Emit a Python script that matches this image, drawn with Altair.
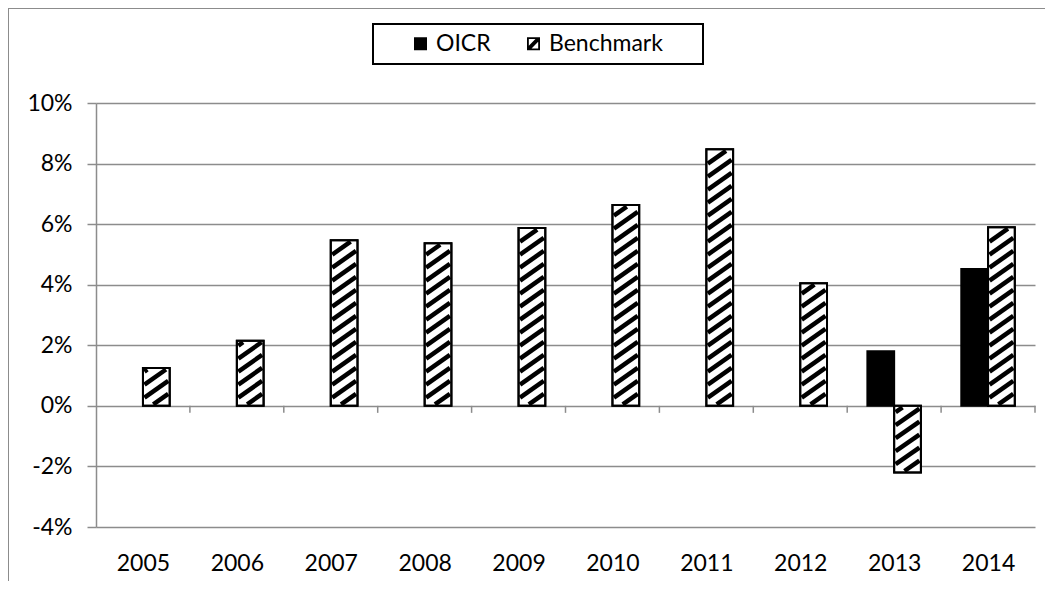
import altair as alt
import pandas as pd

# ---- data ----
years = [2005, 2006, 2007, 2008, 2009, 2010, 2011, 2012, 2013, 2014]
oicr = [None, None, None, None, None, None, None, None, 1.80, 4.52]
benchmark = [1.25, 2.15, 5.47, 5.37, 5.87, 6.63, 8.47, 4.05, -2.20, 5.90]
series_names = ["OICR", "Benchmark"]
y_ticks = [-4, -2, 0, 2, 4, 6, 8, 10]

rows = []
for i, yr in enumerate(years):
    for name, vals in (("OICR", oicr), ("Benchmark", benchmark)):
        v = vals[i]
        if v is not None:
            rows.append({"i": i, "year": str(yr), "series": name, "value": v})
df = pd.DataFrame(rows)
bounds = pd.DataFrame({"b": list(range(1, len(years) + 1))})
one = pd.DataFrame({"a": [0]})
series_df = pd.DataFrame({"series": series_names})

# ---- layout / style constants ----
W, H = 939, 424
YMIN, YMAX = -4, 10
SX = W / len(years)
SY = H / (YMAX - YMIN)
BAR_W = 0.285
WP = BAR_W * SX
SLOPE = 0.7
PERIOD = 13
INS = 1.5
TICK = 7 / SY
GRAY = "#8c8c8c"
FONT = "Lato"
FS = 23
BENCH_PATH = ("M-1,-1H1V1H-1Z M-0.72,-0.72V0.72H0.72V-0.72Z "
              "M-0.72,0.3L0.3,-0.72L0.72,-0.72L0.72,-0.3L-0.3,0.72L-0.72,0.72Z")

xscale = alt.Scale(domain=[0, len(years)], nice=False, zero=False)
yscale = alt.Scale(domain=[YMIN, YMAX], nice=False, zero=False)

label_arr = "[" + ",".join("'%s'" % y for y in years) + "]"
x_axis = alt.Axis(values=[i + 0.5 for i in range(len(years))],
                  labelExpr=label_arr + "[floor(datum.value)]",
                  domain=False, ticks=False, tickSize=0, grid=False,
                  labelPadding=25, title=None, labelFontSize=FS, labelFont=FONT,
                  labelColor="black")
y_axis = alt.Axis(values=y_ticks, labelExpr="datum.value + '%'", title=None,
                  labelFontSize=FS, labelFont=FONT, labelColor="black",
                  labelPadding=15, tickSize=9, tickColor=GRAY, tickWidth=1.5,
                  domainColor=GRAY, domainWidth=1.5, gridColor=GRAY, gridWidth=1.5,
                  grid=True)

legend = alt.Legend(orient="none", legendX=305, legendY=-79, direction="horizontal",
                    title=None, padding=8,
                    labelFont=FONT, labelFontSize=FS, labelColor="black", labelOffset=4,
                    columnPadding=31, symbolSize=169, symbolStrokeWidth=0,
                    symbolOpacity=1,
                    symbolType={"expr": "datum.value === '%s' ? 'square' : '%s'"
                                % (series_names[0], BENCH_PATH)})

base = alt.Chart(df).transform_calculate(
    x0="datum.i + 0.5 - (datum.series == 'OICR' ? %f : 0)" % BAR_W,
    x1="datum.x0 + %f" % BAR_W,
    zero="0",
)

bars = base.mark_bar(stroke="black", strokeWidth=2).encode(
    x=alt.X("x0:Q", scale=xscale, axis=x_axis),
    x2="x1:Q",
    y=alt.Y("value:Q", scale=yscale, axis=y_axis),
    y2="zero:Q",
    fill=alt.Fill("series:N", scale=alt.Scale(domain=series_names, range=["black", "white"]),
                  legend=None),
)

hatch = alt.Chart(df).transform_filter("datum.series == 'Benchmark'").transform_calculate(
    xl="datum.i + 0.5",
    hp="abs(datum.value) * %f" % SY,
    yb="min(0, datum.value)",
    ks="sequence(0, ceil((datum.hp + %f) / %f) + 2)" % (SLOPE * WP, PERIOD),
).transform_flatten(["ks"], as_=["k"]).transform_calculate(
    c="-%f + datum.k * %f" % (SLOPE * WP, PERIOD),
    u0="max(%f, (%f - datum.c) / %f)" % (INS, INS, SLOPE),
    u1="min(%f, (datum.hp - %f - datum.c) / %f)" % (WP - INS, INS, SLOPE),
).transform_filter("datum.u1 > datum.u0").transform_calculate(
    hx="datum.xl + datum.u0 / %f" % SX,
    hx2="datum.xl + datum.u1 / %f" % SX,
    hy="datum.yb + (%f * datum.u0 + datum.c) / %f" % (SLOPE, SY),
    hy2="datum.yb + (%f * datum.u1 + datum.c) / %f" % (SLOPE, SY),
).mark_rule(color="black", strokeWidth=4.5).encode(
    x=alt.X("hx:Q", scale=xscale),
    x2="hx2:Q",
    y=alt.Y("hy:Q", scale=yscale),
    y2="hy2:Q",
)

outline = base.transform_filter("datum.series == 'Benchmark'").mark_bar(
    filled=False, stroke="black", strokeWidth=2).encode(
    x=alt.X("x0:Q", scale=xscale),
    x2="x1:Q",
    y=alt.Y("value:Q", scale=yscale),
    y2="zero:Q",
)

ticks = alt.Chart(bounds).transform_calculate(t0="0", t1="-%f" % TICK).mark_rule(
    color=GRAY, strokeWidth=1.5).encode(
    x=alt.X("b:Q", scale=xscale),
    y=alt.Y("t0:Q", scale=yscale),
    y2="t1:Q",
)

# legend frame (decoration) and legend carrier (symbols drawn off-canvas)
legend_box = alt.Chart(one).mark_rect(fill="white", stroke="black", strokeWidth=2).encode(
    x=alt.value(277), x2=alt.value(607), y=alt.value(-79), y2=alt.value(-39))
legend_pts = alt.Chart(series_df).mark_point(filled=True, opacity=1).encode(
    x=alt.value(-600), y=alt.value(-600),
    fill=alt.Fill("series:N", scale=alt.Scale(domain=series_names, range=["black", "black"]),
                  legend=legend),
)

frame_left = alt.Chart(one).mark_rule(color=GRAY, strokeWidth=1).encode(
    x=alt.value(-87.5), y=alt.value(-95), y2=alt.value(H + 80))
frame_top = alt.Chart(one).mark_rule(color=GRAY, strokeWidth=1).encode(
    x=alt.value(-88), x2=alt.value(W + 20), y=alt.value(-94.5))

chart = alt.layer(bars, hatch, outline, ticks, legend_box, legend_pts,
                  frame_left, frame_top).resolve_scale(
    fill="independent"
).properties(
    width=W, height=H,
    autosize=alt.AutoSizeParams(type="none"),
    padding={"left": 88, "top": 95, "right": 10, "bottom": 54},
    background="white",
).configure_view(stroke=None)

chart.save("out.html", embed_options={"renderer": "svg", "actions": False})
